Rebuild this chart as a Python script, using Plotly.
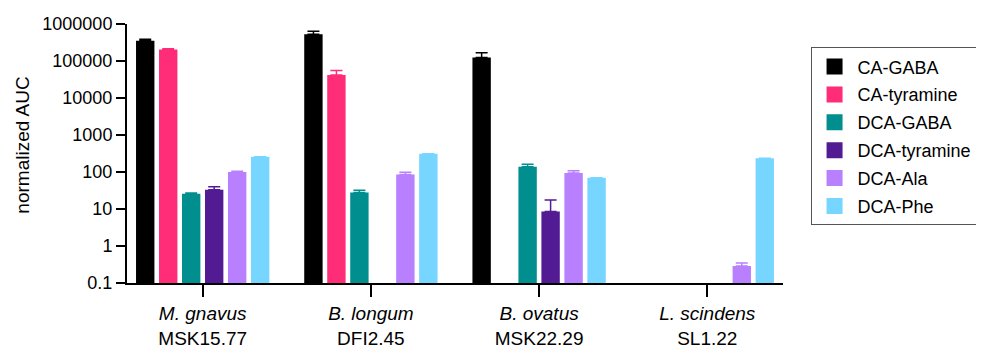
import plotly.graph_objects as go

species = ["M. gnavus", "B. longum", "B. ovatus", "L. scindens"]
strains = ["MSK15.77", "DFI2.45", "MSK22.29", "SL1.22"]
series = ["CA-GABA", "CA-tyramine", "DCA-GABA", "DCA-tyramine", "DCA-Ala", "DCA-Phe"]
colors = ["#000000", "#FF2D78", "#008E8E", "#531B93", "#B880FF", "#76D6FF"]

ca_gaba = [350000, 530000, 125000, None]
ca_gaba_err = [40000, 110000, 42000, None]
ca_tyramine = [205000, 42000, None, None]
ca_tyramine_err = [8000, 13000, None, None]
dca_gaba = [26, 28, 138, None]
dca_gaba_err = [1, 4, 25, None]
dca_tyramine = [33, None, 8.5, None]
dca_tyramine_err = [7, None, 9, None]
dca_ala = [100, 85, 94, 0.29]
dca_ala_err = [5, 13, 14, 0.055]
dca_phe = [260, 310, 70, 235]
dca_phe_err = [0, 0, 0, 0]

values = [ca_gaba, ca_tyramine, dca_gaba, dca_tyramine, dca_ala, dca_phe]
errors = [ca_gaba_err, ca_tyramine_err, dca_gaba_err, dca_tyramine_err, dca_ala_err, dca_phe_err]

y_tickvals = [0.1, 1, 10, 100, 1000, 10000, 100000, 1000000]
y_ticktext = ["0.1", "1", "10", "100", "1000", "10000", "100000", "1000000"]

cats = [f"{s} {t}" for s, t in zip(species, strains)]
ticktext = [f"<i>{s}</i><br>{t}" for s, t in zip(species, strains)]

FONT = "Arial, Liberation Sans, Helvetica, sans-serif"

fig = go.Figure()
for name, col, vals, errs in zip(series, colors, values, errors):
    fig.add_trace(go.Bar(
        x=cats, y=vals, name=name, marker=dict(color=col, line=dict(width=0)),
        error_y=dict(type="data", symmetric=False, array=errs,
                     arrayminus=[0 if e is not None else None for e in errs],
                     color=col, thickness=1.5, width=6, visible=True),
        showlegend=False,
    ))
for name, col in zip(series, colors):
    fig.add_trace(go.Scatter(
        x=[None], y=[None], mode="markers", name=name, legendgroup=name,
        marker=dict(symbol="square", size=18, color=col),
        showlegend=True, hoverinfo="skip",
    ))

fig.update_layout(
    width=976, height=340,
    margin=dict(l=119, r=201, t=16, b=65, autoexpand=False),
    paper_bgcolor="white", plot_bgcolor="white",
    font=dict(family=FONT, size=18, color="black"),
    barmode="group", bargap=0.18, bargroupgap=0.2,
    showlegend=True,
    legend=dict(x=1.042, xanchor="left", y=0.91, yanchor="top",
                bordercolor="#555555", borderwidth=1, tracegroupgap=1.5,
                itemwidth=36, entrywidth=148,
                font=dict(size=18, family=FONT), itemsizing="trace"),
    xaxis=dict(type="category", range=[-0.45, 3.45],
               tickmode="array", tickvals=cats, ticktext=ticktext,
               showline=True, linecolor="black", linewidth=2,
               ticks="outside", ticklen=12, tickwidth=2, tickcolor="black",
               tickfont=dict(size=19, family=FONT), showgrid=False, zeroline=False),
    yaxis=dict(type="log", range=[-1, 6],
               tickmode="array", tickvals=y_tickvals, ticktext=y_ticktext,
               showline=True, linecolor="black", linewidth=2,
               ticks="outside", ticklen=9, tickwidth=2, tickcolor="black",
               tickfont=dict(size=18, family=FONT), showgrid=False, zeroline=False),
    annotations=[dict(text="normalized AUC", xref="paper", yref="paper",
                      x=-0.159, y=0.533, textangle=-90, showarrow=False,
                      font=dict(size=19, family=FONT), xanchor="center", yanchor="middle")],
)

fig.write_html("out.html")
